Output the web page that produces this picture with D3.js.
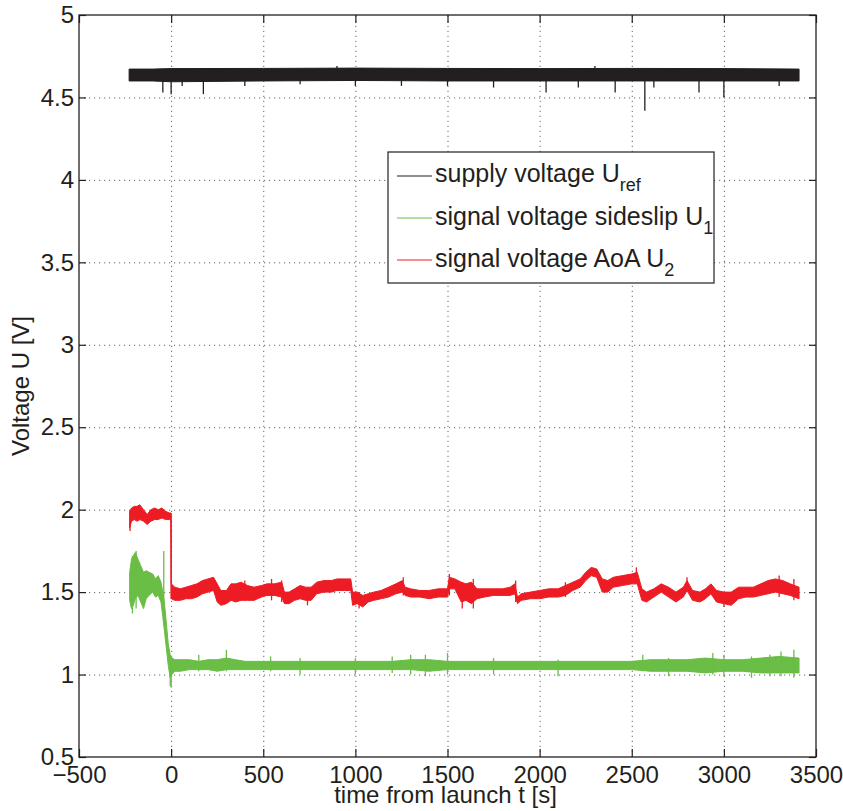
<html>
<head><meta charset="utf-8"/></head>
<script src="https://d3js.org/d3.v7.min.js"></script>
<style>
  body { margin: 0; background: #fff; }
  svg text { font-family: "Liberation Sans", Arial, Helvetica, sans-serif; fill: #231f20; }
  .grid line { stroke: #666; stroke-dasharray: 1.2,3.8; }
  .grid path { display: none; }
  .ax path { display: none; }
  .ax line { stroke: #231f20; stroke-width: 1.2; }
</style>
<body>
<svg width="843" height="811"></svg>
<script>

// tick values
var xTicks = [-500, 0, 500, 1000, 1500, 2000, 2500, 3000, 3500];
var xTickLabels = ["\u2212500", "0", "500", "1000", "1500", "2000", "2500", "3000", "3500"];
var yTicks = [0.5, 1, 1.5, 2, 2.5, 3, 3.5, 4, 4.5, 5];
var yTickLabels = ["0.5", "1", "1.5", "2", "2.5", "3", "3.5", "4", "4.5", "5"];

// supply voltage U_ref : envelope (lo / hi)
var tRef  = [-228, -100, 0, 500, 1000, 1500, 2000, 2500, 3000, 3408];
var refLo = [4.600, 4.600, 4.595, 4.600, 4.603, 4.600, 4.600, 4.600, 4.600, 4.600];
var refHi = [4.672, 4.672, 4.675, 4.676, 4.678, 4.676, 4.675, 4.676, 4.675, 4.672];
// single spikes [t, lo, hi]
var refSpikes = [[-45, 4.53, 4.62], [0, 4.52, 4.62], [60, 4.57, 4.62], [175, 4.52, 4.62], [400, 4.57, 4.62],
  [700, 4.58, 4.62], [1000, 4.57, 4.62], [1250, 4.57, 4.62], [1500, 4.57, 4.62], [1750, 4.56, 4.62],
  [2035, 4.53, 4.62], [2210, 4.56, 4.62], [2410, 4.53, 4.62], [2571, 4.42, 4.62], [2620, 4.56, 4.62],
  [2865, 4.53, 4.62], [3000, 4.50, 4.62], [3300, 4.57, 4.62], [900, 4.62, 4.69], [2300, 4.62, 4.69]];

// signal voltage sideslip U_1
var tU1  = [-225, -215, -205, -195, -180, -165, -150, -135, -120, -100, -85, -70, -55, -45, -35, -25, -15, -5, 5, 20,
  50, 100, 150, 200, 250, 300, 350, 400, 500, 600, 700, 800, 900, 1000, 1100, 1200, 1300, 1400, 1500, 1600,
  1700, 1800, 1900, 2000, 2100, 2200, 2300, 2400, 2500, 2600, 2700, 2800, 2900, 3000, 3100, 3200, 3300, 3408];
var u1Lo = [1.45, 1.40, 1.42, 1.46, 1.48, 1.44, 1.40, 1.46, 1.48, 1.50, 1.47, 1.48, 1.44, 1.35, 1.25, 1.15, 1.05, 0.98, 1.00, 1.02,
  1.02, 1.03, 1.03, 1.03, 1.02, 1.03, 1.03, 1.03, 1.03, 1.03, 1.03, 1.03, 1.03, 1.03, 1.03, 1.03, 1.03, 1.02, 1.03, 1.03,
  1.03, 1.03, 1.03, 1.03, 1.03, 1.03, 1.03, 1.03, 1.03, 1.02, 1.02, 1.02, 1.01, 1.02, 1.02, 1.01, 1.01, 1.01];
var u1Hi = [1.62, 1.70, 1.72, 1.74, 1.70, 1.66, 1.62, 1.63, 1.62, 1.61, 1.58, 1.60, 1.56, 1.50, 1.42, 1.30, 1.18, 1.12, 1.10, 1.09,
  1.09, 1.09, 1.08, 1.09, 1.09, 1.10, 1.09, 1.08, 1.08, 1.08, 1.08, 1.08, 1.08, 1.08, 1.08, 1.08, 1.09, 1.09, 1.08, 1.08,
  1.08, 1.08, 1.08, 1.08, 1.08, 1.08, 1.08, 1.08, 1.08, 1.09, 1.09, 1.09, 1.10, 1.09, 1.09, 1.10, 1.11, 1.10];
var u1Spikes = [[-210, 1.37, 1.72], [-190, 1.40, 1.75], [-40, 1.30, 1.75], [0, 0.92, 1.10], [-5, 0.93, 1.05],
  [150, 1.02, 1.12], [300, 1.02, 1.15], [540, 1.02, 1.11], [700, 1.00, 1.10], [1000, 1.00, 1.10], [1200, 1.01, 1.11],
  [1300, 1.00, 1.12], [1380, 0.99, 1.12], [1500, 1.00, 1.13], [1750, 1.00, 1.10], [2100, 0.99, 1.09], [2560, 1.02, 1.12],
  [2700, 0.99, 1.10], [2940, 1.00, 1.13], [3000, 0.99, 1.12], [3150, 0.98, 1.11], [3250, 0.99, 1.12], [3310, 0.99, 1.14],
  [3380, 0.98, 1.15]];

// signal voltage AoA U_2
var tU2 = [-225, -215, -200, -185, -170, -150, -130, -110, -90, -70, -50, -30, -10, -1,
  1, 20, 50, 80, 110, 140, 170, 200, 230, 250, 270, 300, 325, 350, 380, 415, 450, 490, 520, 560, 600, 615, 640, 670,
  700, 730, 760, 790, 830, 870, 900, 940, 975, 985, 1010, 1040, 1070, 1100, 1140, 1180, 1220, 1255, 1270, 1300, 1350,
  1400, 1450, 1500, 1510, 1540, 1575, 1600, 1630, 1660, 1700, 1750, 1800, 1840, 1865, 1880, 1900, 1950, 2000, 2050,
  2100, 2140, 2180, 2220, 2250, 2280, 2310, 2340, 2370, 2400, 2450, 2500, 2530, 2555, 2580, 2620, 2660, 2700, 2740,
  2780, 2800, 2830, 2870, 2900, 2930, 2960, 3000, 3040, 3080, 3120, 3160, 3200, 3240, 3280, 3320, 3360, 3408];
var u2Lo = [1.89, 1.93, 1.94, 1.93, 1.94, 1.93, 1.91, 1.93, 1.94, 1.94, 1.95, 1.94, 1.94, 1.94,
  1.46, 1.45, 1.45, 1.46, 1.46, 1.47, 1.49, 1.50, 1.51, 1.44, 1.42, 1.43, 1.45, 1.44, 1.45, 1.45, 1.45, 1.47, 1.48, 1.48,
  1.47, 1.43, 1.43, 1.45, 1.46, 1.45, 1.45, 1.49, 1.50, 1.50, 1.51, 1.51, 1.51, 1.42, 1.43, 1.41, 1.44, 1.45, 1.46, 1.47,
  1.49, 1.50, 1.48, 1.47, 1.47, 1.46, 1.47, 1.47, 1.52, 1.52, 1.44, 1.45, 1.43, 1.46, 1.47, 1.48, 1.48, 1.48, 1.49, 1.43,
  1.45, 1.46, 1.46, 1.47, 1.47, 1.48, 1.51, 1.53, 1.57, 1.60, 1.59, 1.50, 1.50, 1.53, 1.54, 1.55, 1.55, 1.45, 1.44, 1.47,
  1.50, 1.47, 1.44, 1.47, 1.51, 1.45, 1.44, 1.46, 1.49, 1.44, 1.43, 1.42, 1.46, 1.47, 1.47, 1.48, 1.49, 1.50, 1.49, 1.48,
  1.46];
var u2Hi = [1.99, 2.01, 2.02, 2.02, 2.03, 2.00, 1.97, 2.00, 2.01, 2.00, 2.01, 1.99, 1.98, 1.98,
  1.55, 1.53, 1.52, 1.53, 1.54, 1.55, 1.57, 1.58, 1.59, 1.55, 1.51, 1.51, 1.55, 1.55, 1.56, 1.54, 1.53, 1.54, 1.55, 1.55,
  1.56, 1.50, 1.50, 1.52, 1.54, 1.53, 1.53, 1.56, 1.57, 1.57, 1.58, 1.58, 1.58, 1.50, 1.50, 1.48, 1.49, 1.50, 1.51, 1.53,
  1.55, 1.57, 1.53, 1.52, 1.51, 1.51, 1.52, 1.52, 1.59, 1.58, 1.56, 1.55, 1.56, 1.52, 1.52, 1.52, 1.52, 1.53, 1.55, 1.47,
  1.49, 1.50, 1.51, 1.52, 1.52, 1.54, 1.56, 1.58, 1.62, 1.65, 1.64, 1.58, 1.57, 1.59, 1.60, 1.61, 1.62, 1.52, 1.50, 1.52,
  1.55, 1.53, 1.50, 1.53, 1.57, 1.51, 1.50, 1.52, 1.55, 1.51, 1.50, 1.50, 1.53, 1.53, 1.53, 1.55, 1.57, 1.58, 1.57, 1.55,
  1.53];
var u2Spikes = [[0, 1.46, 1.98], [-223, 1.87, 1.99], [400, 1.47, 1.57], [545, 1.45, 1.58], [600, 1.44, 1.57],
  [740, 1.42, 1.52], [1020, 1.40, 1.50], [1260, 1.48, 1.59], [1510, 1.48, 1.61], [1580, 1.40, 1.56], [1640, 1.40, 1.58],
  [1870, 1.44, 1.57], [2140, 1.47, 1.56], [2525, 1.55, 1.65], [2800, 1.50, 1.59], [3000, 1.41, 1.49], [3300, 1.47, 1.60],
  [3380, 1.45, 1.58]];

var series = [
  {name: "supply voltage U", sub: "ref", color: "#231f20", t: tRef, lo: refLo, hi: refHi, spikes: refSpikes},
  {name: "signal voltage sideslip U", sub: "1", color: "#6abd45", t: tU1, lo: u1Lo, hi: u1Hi, spikes: u1Spikes},
  {name: "signal voltage AoA U", sub: "2", color: "#ed1c24", t: tU2, lo: u2Lo, hi: u2Hi, spikes: u2Spikes}
];

var mLeft = 79, mRight = 816, mTop = 15, mBottom = 757;
var svg = d3.select("svg");

var x = d3.scaleLinear().domain([-500, 3500]).range([mLeft, mRight]);
var y = d3.scaleLinear().domain([0.5, 5]).range([mBottom, mTop]);

// grid
svg.append("g").attr("class", "grid")
  .attr("transform", "translate(0," + mBottom + ")")
  .call(d3.axisBottom(x).tickValues(xTicks.slice(1, -1)).tickSize(-(mBottom - mTop)).tickFormat(""));
svg.append("g").attr("class", "grid")
  .attr("transform", "translate(" + mLeft + ",0)")
  .call(d3.axisLeft(y).tickValues(yTicks.slice(1, -1)).tickSize(-(mRight - mLeft)).tickFormat(""));

svg.append("clipPath").attr("id", "clip")
  .append("rect").attr("x", mLeft).attr("y", mTop).attr("width", mRight - mLeft).attr("height", mBottom - mTop);

var plot = svg.append("g").attr("clip-path", "url(#clip)");

// draw order: green, red, black
[series[1], series[2], series[0]].forEach(function(s) {
  var pts = s.t.map(function(t, i) { return {t: t, lo: s.lo[i], hi: s.hi[i]}; });
  var area = d3.area()
    .x(function(d) { return x(d.t); })
    .y0(function(d) { return y(d.lo); })
    .y1(function(d) { return y(d.hi); });
  plot.append("path")
    .attr("d", area(pts))
    .attr("fill", s.color)
    .attr("stroke", s.color)
    .attr("stroke-width", 1)
    .attr("stroke-linejoin", "round");
  plot.selectAll(null)
    .data(s.spikes)
    .enter()
    .append("line")
    .attr("x1", function(d) { return x(d[0]); })
    .attr("x2", function(d) { return x(d[0]); })
    .attr("y1", function(d) { return y(d[1]); })
    .attr("y2", function(d) { return y(d[2]); })
    .attr("stroke", s.color)
    .attr("stroke-width", 1.3);
});

// axes (ticks inside, MATLAB style)
svg.append("g").attr("class", "ax")
  .attr("transform", "translate(0," + mBottom + ")")
  .call(d3.axisBottom(x).tickValues(xTicks).tickSize(-8).tickPadding(9)
    .tickFormat(function(d, i) { return xTickLabels[i]; }))
  .selectAll("text").style("font-size", "24px").attr("fill", "#231f20");
svg.append("g").attr("class", "ax")
  .attr("transform", "translate(0," + mTop + ")")
  .call(d3.axisTop(x).tickValues(xTicks).tickSize(-8).tickFormat(""));
svg.append("g").attr("class", "ax")
  .attr("transform", "translate(" + mLeft + ",0)")
  .call(d3.axisLeft(y).tickValues(yTicks).tickSize(-7).tickPadding(5)
    .tickFormat(function(d, i) { return yTickLabels[i]; }))
  .selectAll("text").style("font-size", "24px").attr("fill", "#231f20");
svg.append("g").attr("class", "ax")
  .attr("transform", "translate(" + mRight + ",0)")
  .call(d3.axisRight(y).tickValues(yTicks).tickSize(-7).tickFormat(""));

svg.append("rect")
  .attr("x", mLeft).attr("y", mTop).attr("width", mRight - mLeft).attr("height", mBottom - mTop)
  .attr("fill", "none").attr("stroke", "#231f20").attr("stroke-width", 1.3);

// axis titles
svg.append("text")
  .attr("x", (mLeft + mRight) / 2 - 2).attr("y", 803)
  .attr("text-anchor", "middle").style("font-size", "24px")
  .text("time from launch t [s]");
svg.append("text")
  .attr("transform", "translate(29," + (mTop + mBottom) / 2 + ") rotate(-90)")
  .attr("text-anchor", "middle").style("font-size", "24px")
  .text("Voltage U [V]");

// legend
var lg = svg.append("g");
lg.append("rect")
  .attr("x", 388).attr("y", 152).attr("width", 326).attr("height", 131)
  .attr("fill", "#fff").attr("stroke", "#231f20").attr("stroke-width", 1.2);
series.forEach(function(s, i) {
  var ly = 176 + i * 42;
  lg.append("line")
    .attr("x1", 397).attr("x2", 432).attr("y1", ly).attr("y2", ly)
    .attr("stroke", s.color).attr("stroke-width", 1.2);
  var tx = lg.append("text")
    .attr("x", 435).attr("y", ly + 6 + (i > 0 ? 1 : 0))
    .style("font-size", "25px");
  tx.append("tspan").text(s.name);
  tx.append("tspan").attr("dy", 9).style("font-size", "18px").text(s.sub);
});

</script>
</body>
</html>
